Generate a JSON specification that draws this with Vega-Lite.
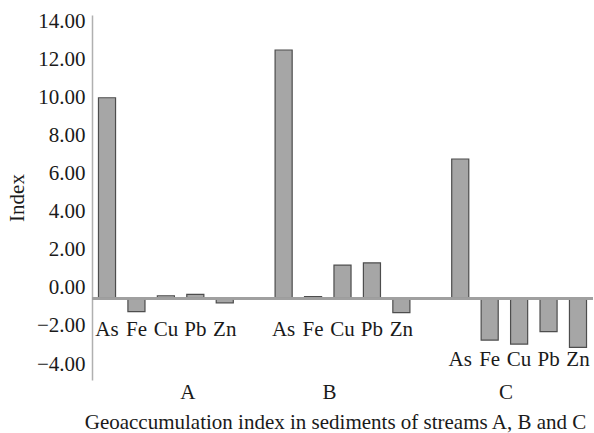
{
  "$schema": "https://vega.github.io/schema/vega-lite/v6.json",
  "autosize": {"type": "none"},
  "padding": {"left": 92, "top": 15, "right": 1, "bottom": 53},
  "width": 501,
  "height": 365,
  "background": "white",
  "config": {
    "view": {"stroke": null},
    "font": "Liberation Serif",
    "text": {"font": "Liberation Serif", "fontSize": 21, "color": "#1a1a1a"}
  },
  "data": {
    "values": [
      {"stream": "A", "element": "As", "key": "A-As", "value": 10.0},
      {"stream": "A", "element": "Fe", "key": "A-Fe", "value": -1.25},
      {"stream": "A", "element": "Cu", "key": "A-Cu", "value": -0.41},
      {"stream": "A", "element": "Pb", "key": "A-Pb", "value": -0.34},
      {"stream": "A", "element": "Zn", "key": "A-Zn", "value": -0.78},
      {"stream": "B", "element": "As", "key": "B-As", "value": 12.51},
      {"stream": "B", "element": "Fe", "key": "B-Fe", "value": -0.46},
      {"stream": "B", "element": "Cu", "key": "B-Cu", "value": 1.2},
      {"stream": "B", "element": "Pb", "key": "B-Pb", "value": 1.32},
      {"stream": "B", "element": "Zn", "key": "B-Zn", "value": -1.3},
      {"stream": "C", "element": "As", "key": "C-As", "value": 6.78},
      {"stream": "C", "element": "Fe", "key": "C-Fe", "value": -2.74},
      {"stream": "C", "element": "Cu", "key": "C-Cu", "value": -2.95},
      {"stream": "C", "element": "Pb", "key": "C-Pb", "value": -2.3},
      {"stream": "C", "element": "Zn", "key": "C-Zn", "value": -3.12}
    ]
  },
  "encoding": {
    "x": {
      "field": "key",
      "type": "nominal",
      "scale": {
        "domain": ["A-As", "A-Fe", "A-Cu", "A-Pb", "A-Zn", "gap1", "B-As", "B-Fe", "B-Cu", "B-Pb", "B-Zn", "gap2", "C-As", "C-Fe", "C-Cu", "C-Pb", "C-Zn"],
        "paddingInner": 0.42,
        "paddingOuter": 0.22
      },
      "axis": {
        "values": ["A-Cu", "B-Cu", "C-Cu"],
        "labelExpr": "substring(datum.value, 0, 1)",
        "domain": false,
        "ticks": false,
        "labelAngle": 0,
        "labelFont": "Liberation Serif",
        "labelFontSize": 21,
        "labelColor": "#1a1a1a",
        "labelPadding": 1,
        "labelOffset": {"condition": {"test": "datum.value == 'A-Cu'", "value": 22}, "value": -13},
        "title": "Geoaccumulation index in sediments of streams A, B and C",
        "titleFont": "Liberation Serif",
        "titleFontSize": 21,
        "titleFontWeight": "normal",
        "titleColor": "#1a1a1a",
        "titlePadding": 9,
        "titleX": 243
      }
    }
  },
  "layer": [
    {
      "mark": {"type": "bar", "fill": "#a6a6a6", "stroke": "#4d4d4d", "strokeWidth": 1.2},
      "encoding": {
        "y": {
          "field": "value",
          "type": "quantitative",
          "scale": {"domain": [-4.84, 14.35], "nice": false, "zero": false},
          "axis": {
            "values": [-4, -2, 0, 2, 4, 6, 8, 10, 12, 14],
            "format": ".2f",
            "grid": false,
            "ticks": false,
            "domainColor": "#b0b0b0",
            "domainWidth": 1.5,
            "labelFont": "Liberation Serif",
            "labelFontSize": 21,
            "labelColor": "#1a1a1a",
            "labelPadding": 7,
            "title": "Index",
            "titleFont": "Liberation Serif",
            "titleFontSize": 21,
            "titleFontWeight": "normal",
            "titleColor": "#1a1a1a",
            "titlePadding": 9
          }
        },
        "y2": {"datum": -0.55}
      }
    },
    {
      "mark": {"type": "rule", "color": "#a0a0a0", "strokeWidth": 1.5},
      "encoding": {"y": {"datum": -0.55}, "x": {"value": 0}, "x2": {"value": 501}}
    },
    {
      "transform": [{"filter": "datum.stream != 'C'"}],
      "mark": {"type": "text", "baseline": "middle"},
      "encoding": {"text": {"field": "element"}, "y": {"datum": -2.2}}
    },
    {
      "transform": [{"filter": "datum.stream == 'C'"}],
      "mark": {"type": "text", "baseline": "middle"},
      "encoding": {"text": {"field": "element"}, "y": {"datum": -3.78}}
    }
  ]
}
